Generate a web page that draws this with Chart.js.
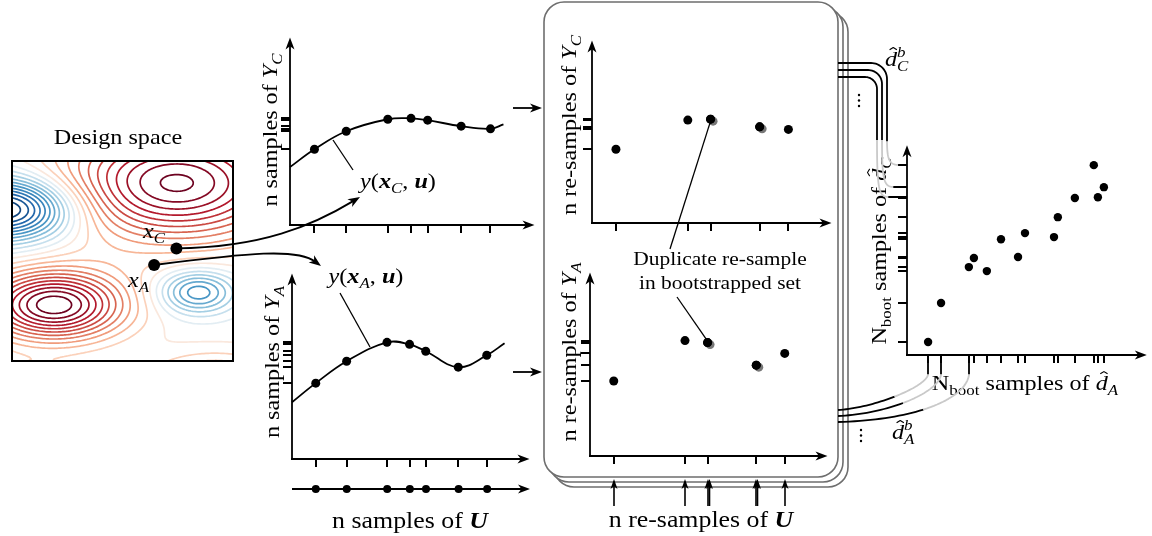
<!DOCTYPE html>
<html>
<head>
<meta charset="utf-8">
<script src="https://cdn.jsdelivr.net/npm/chart.js@4.4.0/dist/chart.umd.min.js"></script>
<style>
  body { margin: 0; background: #fff; }
  #stage { position: relative; width: 1152px; height: 536px; overflow: hidden; background: #fff; }
  #stage canvas { position: absolute; }
</style>
</head>
<body>
<div id="stage">
  <canvas id="back" width="1152" height="536" style="left:0;top:0"></canvas>
  <canvas id="front" width="1152" height="536" style="left:0;top:0;z-index:5"></canvas>
</div>
<script>
// design points x_C and x_A in the normalised design space
const designX = [0.744, 0.643];
const designY = [0.563, 0.480];

// n samples of U, shared by both design points
const uSamples = [0.10, 0.23, 0.40, 0.495, 0.563, 0.70, 0.82];
const ycSamples = [0.404, 0.500, 0.564, 0.569, 0.559, 0.527, 0.513];
const yaSamples = [0.409, 0.527, 0.629, 0.618, 0.581, 0.495, 0.559];

// response curves y(x_C, u) and y(x_A, u)
const curveUC = [0, 0.10, 0.23, 0.40, 0.495, 0.563, 0.70, 0.82, 0.873];
const curveYC = [0.309, 0.404, 0.500, 0.564, 0.569, 0.559, 0.527, 0.513, 0.537];
const curveUA = [0, 0.10, 0.23, 0.40, 0.495, 0.563, 0.70, 0.82, 0.895];
const curveYA = [0.306, 0.409, 0.527, 0.629, 0.618, 0.581, 0.495, 0.559, 0.624];

// one bootstrap re-sample (indices into the samples, repeats allowed)
const resampleIdx = [0, 2, 3, 3, 5, 5, 6];

// N_boot bootstrap estimates of d_A and d_C
const bootDA = [0.088, 0.142, 0.258, 0.279, 0.333, 0.392, 0.463, 0.492, 0.613, 0.629, 0.700, 0.779, 0.796, 0.821];
const bootDC = [0.062, 0.248, 0.419, 0.462, 0.400, 0.552, 0.467, 0.581, 0.562, 0.657, 0.748, 0.905, 0.752, 0.800];

// bumps of the design-space response surface
const bumpU   = [-0.02, 0.744, 0.19, 0.84, 0.92, 0.10];
const bumpV   = [0.76, 0.89, 0.28, 0.345, -0.12, -0.12];
const bumpAmp = [-1.05, 1.0, 1.04, -0.55, 0.45, 0.3];
const bumpSu  = [0.21, 0.36, 0.22, 0.12, 0.20, 0.15];
const bumpSv  = [0.11, 0.20, 0.12, 0.075, 0.10, 0.07];
const contourLevels = Array.from({ length: 24 }, (_, k) => -0.9775 + 0.085 * k);

const INK = '#000';
const GRAY = '#c9c9c9';
const SERIF = '"Liberation Serif", "Times New Roman", serif';
const TEXT_SIZE = 22;
const STRETCH = 1.1;
const stage = document.getElementById('stage');

const rdbu = ['#053061', '#2166ac', '#4393c3', '#92c5de', '#d1e5f0', '#f7f7f7',
              '#fddbc7', '#f4a582', '#d6604d', '#b2182b', '#67001f'];
function cmap(t) {
  t = Math.sign(t) * Math.pow(Math.abs(t), 0.7);
  const p = Math.max(0, Math.min(1, (t + 1) / 2)) * (rdbu.length - 1);
  const i = Math.min(rdbu.length - 2, Math.floor(p));
  const f = p - i;
  const a = parseInt(rdbu[i].slice(1), 16), b = parseInt(rdbu[i + 1].slice(1), 16);
  const ch = s => Math.round(((a >> s) & 255) * (1 - f) + ((b >> s) & 255) * f);
  return `rgb(${ch(16)},${ch(8)},${ch(0)})`;
}

function field(u, v) {
  let s = 0;
  for (let k = 0; k < bumpAmp.length; k++) {
    const du = (u - bumpU[k]) / bumpSu[k], dv = (v - bumpV[k]) / bumpSv[k];
    s += bumpAmp[k] * Math.exp(-0.5 * (du * du + dv * dv));
  }
  return s;
}

// marching squares edge pairs per cell case
const MS_TABLE = [[], [[3, 0]], [[0, 1]], [[3, 1]], [[1, 2]], [[3, 2], [0, 1]], [[0, 2]], [[3, 2]],
                  [[2, 3]], [[0, 2]], [[3, 0], [1, 2]], [[1, 2]], [[1, 3]], [[0, 1]], [[0, 3]], []];

function arrowHead(ctx, x, y, ang, L = 12, W = 4.5) {
  ctx.save();
  ctx.translate(x, y);
  ctx.rotate(ang);
  ctx.beginPath();
  ctx.moveTo(0, 0);
  ctx.lineTo(-L, -W);
  ctx.lineTo(-0.72 * L, 0);
  ctx.lineTo(-L, W);
  ctx.closePath();
  ctx.fill();
  ctx.restore();
}

function line(ctx, x1, y1, x2, y2) {
  ctx.beginPath();
  ctx.moveTo(x1, y1);
  ctx.lineTo(x2, y2);
  ctx.stroke();
}

// axes with arrow tips and tick marks at the sample values
function arrowAxes(cfg) {
  return {
    id: 'arrowAxes',
    beforeDatasetsDraw(chart) {
      const { ctx, chartArea: a, scales: { x, y } } = chart;
      ctx.save();
      ctx.strokeStyle = INK;
      ctx.fillStyle = INK;
      ctx.lineWidth = 1.8;
      const y0 = cfg.lineOnly ? y.getPixelForValue(0) : a.bottom;
      line(ctx, a.left - (cfg.lineOnly ? 0 : 1), y0, a.right - 6, y0);
      arrowHead(ctx, a.right, y0, 0);
      if (!cfg.lineOnly) {
        line(ctx, a.left, a.bottom + 1, a.left, a.top + 6);
        arrowHead(ctx, a.left, a.top, -Math.PI / 2);
      }
      ctx.lineWidth = 2;
      (cfg.xTicks || []).forEach(v => {
        const px = Math.round(x.getPixelForValue(v));
        line(ctx, px, a.bottom, px, a.bottom + 8);
      });
      (cfg.yTicks || []).forEach(v => {
        const py = Math.round(y.getPixelForValue(v));
        line(ctx, a.left - 9, py, a.left, py);
      });
      // repeated re-samples get a grey shadow behind the dot
      ctx.fillStyle = '#777';
      (cfg.shadows || []).forEach(p => {
        ctx.beginPath();
        ctx.arc(x.getPixelForValue(p.x) + 2.5, y.getPixelForValue(p.y) + 2, 4.5, 0, Math.PI * 2);
        ctx.fill();
      });
      ctx.restore();
    }
  };
}

const contourPlugin = {
  id: 'designContours',
  beforeDatasetsDraw(chart) {
    const { ctx, chartArea: a, scales: { x, y } } = chart;
    const nx = 114, ny = 104;
    const grid = [];
    for (let j = 0; j <= ny; j++) {
      const row = [];
      for (let i = 0; i <= nx; i++) row.push(field(i / nx, j / ny));
      grid.push(row);
    }
    const toPx = p => [x.getPixelForValue(p[0] / nx), y.getPixelForValue(p[1] / ny)];
    ctx.save();
    ctx.beginPath();
    ctx.rect(a.left, a.top, a.right - a.left, a.bottom - a.top);
    ctx.clip();
    ctx.lineWidth = 1.7;
    ctx.lineCap = 'round';
    contourLevels.forEach(lv => {
      ctx.strokeStyle = cmap(lv);
      ctx.beginPath();
      for (let j = 0; j < ny; j++) {
        for (let i = 0; i < nx; i++) {
          const va = grid[j][i], vb = grid[j][i + 1], vc = grid[j + 1][i + 1], vd = grid[j + 1][i];
          const k = (va > lv) | (vb > lv) << 1 | (vc > lv) << 2 | (vd > lv) << 3;
          const segs = MS_TABLE[k];
          if (!segs.length) continue;
          const edge = e => {
            if (e === 0) return [i + (lv - va) / (vb - va), j];
            if (e === 1) return [i + 1, j + (lv - vb) / (vc - vb)];
            if (e === 2) return [i + (lv - vd) / (vc - vd), j + 1];
            return [i, j + (lv - va) / (vd - va)];
          };
          segs.forEach(([e1, e2]) => {
            const p = toPx(edge(e1)), q = toPx(edge(e2));
            ctx.moveTo(p[0], p[1]);
            ctx.lineTo(q[0], q[1]);
          });
        }
      }
      ctx.stroke();
    });
    ctx.restore();
    ctx.save();
    ctx.strokeStyle = INK;
    ctx.lineWidth = 2;
    ctx.strokeRect(a.left, a.top, a.right - a.left, a.bottom - a.top);
    ctx.restore();
  }
};

function makeChart(area, pad, datasets, plugins, yMin = 0) {
  const cv = document.createElement('canvas');
  cv.width = area.r - area.l + pad[0] + pad[2];
  cv.height = area.b - area.t + pad[1] + pad[3];
  cv.style.left = (area.l - pad[0]) + 'px';
  cv.style.top = (area.t - pad[1]) + 'px';
  cv.style.zIndex = 2;
  stage.appendChild(cv);
  const chart = new Chart(cv, {
    type: 'scatter',
    data: { datasets },
    options: {
      responsive: false,
      animation: false,
      events: [],
      layout: { padding: { left: pad[0], top: pad[1], right: pad[2], bottom: pad[3] } },
      plugins: { legend: { display: false }, tooltip: { enabled: false } },
      scales: {
        x: { type: 'linear', display: false, min: 0, max: 1 },
        y: { type: 'linear', display: false, min: yMin, max: 1 }
      }
    },
    plugins
  });
  chart.offX = area.l - pad[0];
  chart.offY = area.t - pad[1];
  return chart;
}

const dots = (xs, ys, r) => ({
  data: xs.map((x, i) => ({ x, y: ys[i] })),
  pointRadius: r, pointHoverRadius: r,
  pointBackgroundColor: INK, pointBorderWidth: 0, clip: false
});
const curve = (xs, ys) => ({
  data: xs.map((x, i) => ({ x, y: ys[i] })),
  showLine: true, pointRadius: 0, borderColor: INK, borderWidth: 1.8, tension: 0.4, clip: false
});

function pagePt(chart, vx, vy) {
  return {
    x: chart.offX + chart.scales.x.getPixelForValue(vx),
    y: chart.offY + chart.scales.y.getPixelForValue(vy)
  };
}

// stacked bootstrap panels behind the re-sample plots
const bc = document.getElementById('back').getContext('2d');
[10, 5, 0].forEach(d => {
  bc.beginPath();
  bc.roundRect(544 + d, 2 + d, 294, 475, 20);
  bc.fillStyle = '#fff';
  bc.fill();
  bc.strokeStyle = '#6e6e6e';
  bc.lineWidth = 1.6;
  bc.stroke();
});

// design space
const design = makeChart({ l: 9, t: 158, r: 236, b: 364 }, [3, 3, 3, 3],
  [dots(designX, designY, 6)], [contourPlugin]);

// samples of Y_C and Y_A over the samples of U
const ycChart = makeChart({ l: 290, t: 37, r: 535, b: 225 }, [14, 4, 4, 12],
  [dots(uSamples, ycSamples, 4.5), curve(curveUC, curveYC)],
  [arrowAxes({ xTicks: uSamples, yTicks: ycSamples })]);
const yaChart = makeChart({ l: 292, t: 273, r: 530, b: 459 }, [14, 4, 4, 12],
  [dots(uSamples, yaSamples, 4.5), curve(curveUA, curveYA)],
  [arrowAxes({ xTicks: uSamples, yTicks: yaSamples })]);
const uChart = makeChart({ l: 292, t: 481, r: 530, b: 497 }, [4, 4, 4, 4],
  [dots(uSamples, uSamples.map(() => 0), 4)],
  [arrowAxes({ lineOnly: true })], -1);

// re-sampled sets
const rsU = resampleIdx.map(i => uSamples[i]);
const rsC = resampleIdx.map(i => ycSamples[i]);
const rsA = resampleIdx.map(i => yaSamples[i]);
const repeated = resampleIdx.filter((v, k) => resampleIdx.indexOf(v) !== k);
const midTop = makeChart({ l: 592, t: 40, r: 832, b: 223 }, [14, 4, 4, 12],
  [dots(rsU, rsC, 4.5)],
  [arrowAxes({ xTicks: rsU, yTicks: rsC, shadows: repeated.map(i => ({ x: uSamples[i], y: ycSamples[i] })) })]);
const midBottom = makeChart({ l: 590, t: 272, r: 828, b: 456 }, [14, 4, 4, 12],
  [dots(rsU, rsA, 4.5)],
  [arrowAxes({ xTicks: rsU, yTicks: rsA, shadows: repeated.map(i => ({ x: uSamples[i], y: yaSamples[i] })) })]);

// bootstrap estimates
const right = makeChart({ l: 907, t: 145, r: 1147, b: 355 }, [14, 4, 4, 12],
  [dots(bootDA, bootDC, 4.2)],
  [arrowAxes({ xTicks: bootDA, yTicks: bootDC })]);

// ---- text helpers ----
const rm = t => ({ t, f: 'rm' });
const it = t => ({ t, f: 'it' });
const bi = t => ({ t, f: 'bi' });
const sub = (t, f = 'it') => ({ t, f, s: 0.7, dy: 0.22 });
const hat = t => ({ t, f: 'it', hat: true });

function segFont(s, size) {
  const sty = s.f === 'it' ? 'italic ' : s.f === 'bi' ? 'italic bold ' : '';
  return sty + (size * (s.s || 1)).toFixed(1) + 'px ' + SERIF;
}

function rich(ctx, segs, x, y, opt = {}) {
  const size = opt.size || TEXT_SIZE;
  ctx.save();
  ctx.translate(x, y);
  if (opt.rot) ctx.rotate(opt.rot);
  ctx.scale(STRETCH, 1);
  let w = 0;
  const widths = segs.map(s => {
    ctx.font = segFont(s, size);
    const m = ctx.measureText(s.t).width;
    if (!s.noAdv) w += m;
    return m;
  });
  let cx = opt.align === 'left' ? 0 : opt.align === 'right' ? -w : -w / 2;
  ctx.fillStyle = INK;
  ctx.strokeStyle = INK;
  ctx.textBaseline = 'alphabetic';
  segs.forEach((s, i) => {
    ctx.font = segFont(s, size);
    const dy = (s.dy || 0) * size;
    ctx.fillText(s.t, cx, dy);
    if (s.hat) {
      const hx = cx + widths[i] * 0.68, hy = dy - size * 0.84;
      ctx.lineWidth = 1;
      ctx.beginPath();
      ctx.moveTo(hx - size * 0.15, hy + size * 0.1);
      ctx.lineTo(hx, hy);
      ctx.lineTo(hx + size * 0.15, hy + size * 0.1);
      ctx.stroke();
    }
    if (!s.noAdv) cx += widths[i];
  });
  ctx.restore();
}

function arrowTo(ctx, x1, y1, x2, y2, lw = 1.8, L = 12, W = 4.5) {
  const ang = Math.atan2(y2 - y1, x2 - x1);
  ctx.lineWidth = lw;
  line(ctx, x1, y1, x2 - 0.6 * L * Math.cos(ang), y2 - 0.6 * L * Math.sin(ang));
  arrowHead(ctx, x2, y2, ang, L, W);
}

function curveArrow(ctx, p0, c1, c2, p3) {
  const ang = Math.atan2(p3.y - c2.y, p3.x - c2.x);
  ctx.lineWidth = 1.8;
  ctx.beginPath();
  ctx.moveTo(p0.x, p0.y);
  ctx.bezierCurveTo(c1.x, c1.y, c2.x, c2.y, p3.x - 7 * Math.cos(ang), p3.y - 7 * Math.sin(ang));
  ctx.stroke();
  arrowHead(ctx, p3.x, p3.y, ang, 12, 4.5);
}

const seg = (a, b, n = 20) => Array.from({ length: n + 1 }, (_, k) => [a[0] + (b[0] - a[0]) * k / n, a[1] + (b[1] - a[1]) * k / n]);
const arcP = (cx, cy, r, a0, a1, n = 16) => Array.from({ length: n + 1 }, (_, k) => {
  const t = a0 + (a1 - a0) * k / n;
  return [cx + r * Math.cos(t), cy + r * Math.sin(t)];
});
const bez = (p0, p1, p2, p3, n = 40) => Array.from({ length: n + 1 }, (_, k) => {
  const t = k / n, m = 1 - t;
  return [0, 1].map(d => m * m * m * p0[d] + 3 * m * m * t * p1[d] + 3 * m * t * t * p2[d] + t * t * t * p3[d]);
});

// connector drawn black, with a light grey stretch where it passes behind labels
function twoTone(ctx, pts, isGray) {
  ctx.lineWidth = 1.8;
  ctx.lineJoin = 'round';
  let k = 1;
  while (k < pts.length) {
    const mid = p => [(p[0][0] + p[1][0]) / 2, (p[0][1] + p[1][1]) / 2];
    const g = isGray(mid([pts[k - 1], pts[k]]));
    ctx.strokeStyle = g ? GRAY : INK;
    ctx.beginPath();
    ctx.moveTo(pts[k - 1][0], pts[k - 1][1]);
    while (k < pts.length && isGray(mid([pts[k - 1], pts[k]])) === g) {
      ctx.lineTo(pts[k][0], pts[k][1]);
      k++;
    }
    ctx.stroke();
  }
}

function vdots(ctx, x, y) {
  [0, 5.5, 11].forEach(d => {
    ctx.beginPath();
    ctx.arc(x, y + d, 1.2, 0, Math.PI * 2);
    ctx.fill();
  });
}

// ---- annotations ----
const fc = document.getElementById('front').getContext('2d');
fc.strokeStyle = INK;
fc.fillStyle = INK;

rich(fc, [rm('Design space')], 118, 144);
rich(fc, [it('x'), sub('C')], 143, 238, { align: 'left' });
rich(fc, [it('x'), sub('A')], 128, 287, { align: 'left' });

// design points feed the two response curves
const pC = pagePt(design, designX[0], designY[0]);
const pA = pagePt(design, designX[1], designY[1]);
curveArrow(fc, pC, { x: pC.x + 85, y: pC.y - 1 }, { x: 312, y: 226 }, { x: 360, y: 197 });
curveArrow(fc, pA, { x: pA.x + 95, y: pA.y - 12 }, { x: 297, y: 248 }, { x: 321, y: 266 });

// response curve labels
rich(fc, [it('y'), rm('('), bi('x'), sub('C'), rm(', '), bi('u'), rm(')')], 398, 188);
rich(fc, [it('y'), rm('('), bi('x'), sub('A'), rm(', '), bi('u'), rm(')')], 366, 283);
fc.lineWidth = 1.3;
line(fc, 333, 140, 353, 170);
line(fc, 340, 293, 370, 347);

// axis labels
const up = -Math.PI / 2;
rich(fc, [rm('n samples of '), it('Y'), sub('C')], 277, 130, { rot: up });
rich(fc, [rm('n samples of '), it('Y'), sub('A')], 279, 362, { rot: up });
rich(fc, [rm('n samples of '), bi('U')], 410, 528, { size: 23.5 });
rich(fc, [rm('n re-samples of '), it('Y'), sub('C')], 576, 125, { rot: up });
rich(fc, [rm('n re-samples of '), it('Y'), sub('A')], 576, 352, { rot: up });
rich(fc, [rm('n re-samples of '), bi('U')], 701, 527, { size: 23.5 });
rich(fc, [rm('N'), sub('boot', 'rm'), rm(' samples of '), hat('d'), sub('C')], 886, 251, { rot: up });
rich(fc, [rm('N'), sub('boot', 'rm'), rm(' samples of '), hat('d'), sub('A')], 1025, 390);

// samples pass into the bootstrap panel
arrowTo(fc, 513, 108, 542, 108);
arrowTo(fc, 513, 372, 542, 372);

// re-sampled inputs entering the panel from below
fc.fillStyle = INK;
resampleIdx.forEach((i, k) => {
  const x = Math.round(pagePt(midBottom, uSamples[i], 0).x) + (resampleIdx.indexOf(i) !== k ? 1.5 : 0);
  arrowTo(fc, x, 506, x, 479, 1.6, 10, 3.5);
});

// duplicate re-sample callout
rich(fc, [rm('Duplicate re-sample')], 720, 265, { size: 19.5 });
rich(fc, [rm('in bootstrapped set')], 720, 289, { size: 19.5 });
const dupTop = pagePt(midTop, uSamples[repeated[0]], ycSamples[repeated[0]]);
const dupBot = pagePt(midBottom, uSamples[repeated[0]], yaSamples[repeated[0]]);
fc.lineWidth = 1.3;
line(fc, dupTop.x, dupTop.y + 2, 670, 249);
line(fc, 677, 297, dupBot.x - 1, dupBot.y - 3);

// bootstrap estimates routed to the scatter axes
const origin = pagePt(right, 0, 0);
const topEnds = [...bootDC].sort((a, b) => b - a).slice(0, 3).map(v => Math.round(pagePt(right, 0, v).y));
const leftEnds = [...bootDA].sort((a, b) => a - b).slice(0, 3).map(v => Math.round(pagePt(right, v, 0).x));
topEnds.forEach((yE, i) => {
  const y0 = 63 + 7 * i, vx = 887 - 5 * i, r = 16 - 2 * i;
  const pts = [].concat(
    seg([838, y0], [vx - r, y0]),
    arcP(vx - r, y0 + r, r, -Math.PI / 2, 0),
    seg([vx, y0 + r], [vx, 140]),
    bez([vx, 140], [vx, yE - 6], [vx + 2, yE], [vx + 12, yE]),
    seg([vx + 12, yE], [origin.x - 1, yE])
  );
  twoTone(fc, pts, p => p[1] > 141 && p[0] < vx + 11);
});
leftEnds.forEach((xE, i) => {
  const y0 = 410 + 6 * i;
  const pts = [].concat(
    bez([838, y0], [xE - 55, y0 - 2], [xE - 4, y0 - 22], [xE, origin.y + 20]),
    seg([xE, origin.y + 20], [xE, origin.y + 4])
  );
  twoTone(fc, pts, p => p[1] < y0 - 13 && p[1] > origin.y + 19);
});

fc.fillStyle = INK;
rich(fc, [hat('d'), { t: 'b', f: 'it', s: 0.7, dy: -0.42, noAdv: true }, sub('C')], 885, 66, { align: 'left' });
rich(fc, [hat('d'), { t: 'b', f: 'it', s: 0.7, dy: -0.42, noAdv: true }, sub('A')], 892, 439, { align: 'left' });
fc.fillStyle = INK;
vdots(fc, 859, 95);
vdots(fc, 861, 430);
</script>
</body>
</html>
